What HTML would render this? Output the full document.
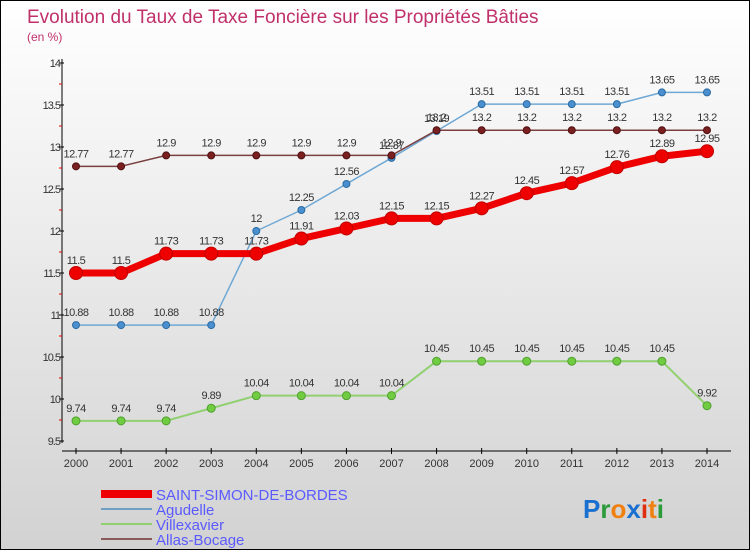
<!DOCTYPE html>
<html><head><meta charset="utf-8"><style>
body{margin:0}
#c{position:relative;width:748px;height:548px;border:1px solid #000;background:linear-gradient(#fff,#d2d2d2);font-family:"Liberation Sans",sans-serif;overflow:hidden}
</style></head><body>
<div id="c">
<svg id="s" width="748" height="548" style="position:absolute;left:0;top:0" font-family="Liberation Sans, sans-serif">
<text x="26" y="22" font-size="19" fill="#c0306a">Evolution du Taux de Taxe Foncière sur les Propriétés Bâties</text>
<text x="26" y="40" font-size="12" fill="#c0306a">(en %)</text>
<g id="axes"></g><g id="series"></g>
<g>
<rect x="100" y="489" width="51" height="8" fill="#e00"/>
<text x="155" y="499" font-size="15" fill="#5a5aff">SAINT-SIMON-DE-BORDES</text>
<rect x="100" y="507" width="51" height="2" fill="#6fa0c4"/>
<text x="155" y="514" font-size="15" fill="#5a5aff">Agudelle</text>
<rect x="100" y="522" width="51" height="2" fill="#90d070"/>
<text x="155" y="529" font-size="15" fill="#5a5aff">Villexavier</text>
<rect x="100" y="537" width="51" height="2" fill="#8a5a5a"/>
<text x="155" y="544" font-size="15" fill="#5a5aff">Allas-Bocage</text>
</g>
<text x="582" y="517" font-size="26" font-weight="bold"><tspan fill="#1a70d0">P</tspan><tspan fill="#2a9a3a">r</tspan><tspan fill="#f08010">o</tspan><tspan fill="#1a70d0">x</tspan><tspan fill="#e03010">i</tspan><tspan fill="#f08010">t</tspan><tspan fill="#2a9a3a">i</tspan></text>
</svg>
</div>
<script>
const years=[2000,2001,2002,2003,2004,2005,2006,2007,2008,2009,2010,2011,2012,2013,2014];
const yTicks=[9.5,10,10.5,11,11.5,12,12.5,13,13.5,14];
const saintSimon=[11.5,11.5,11.73,11.73,11.73,11.91,12.03,12.15,12.15,12.27,12.45,12.57,12.76,12.89,12.95];
const agudelle=[10.88,10.88,10.88,10.88,12,12.25,12.56,12.87,13.19,13.51,13.51,13.51,13.51,13.65,13.65];
const villexavier=[9.74,9.74,9.74,9.89,10.04,10.04,10.04,10.04,10.45,10.45,10.45,10.45,10.45,10.45,9.92];
const allas=[12.77,12.77,12.9,12.9,12.9,12.9,12.9,12.9,13.2,13.2,13.2,13.2,13.2,13.2,13.2];
const NS="http://www.w3.org/2000/svg";
const X=i=>75+i*(706-75)/(years.length-1);
const Y=v=>440-(v-9.5)*84;
function mk(t,a,p){const e=document.createElementNS(NS,t);for(const k in a)e.setAttribute(k,a[k]);p.appendChild(e);return e;}
const ax=document.getElementById('axes');
let e=mk('line',{x1:61,y1:58,x2:61,y2:442,stroke:'#000'},ax);


e=mk('line',{x1:61,y1:450,x2:730,y2:450,stroke:'#000'},ax);


yTicks.forEach(v=>{
 mk('line',{x1:58,x2:63,y1:Y(v),y2:Y(v),stroke:'#000'},ax);
 if(v<14)mk('line',{x1:58,x2:61,y1:Y(v+0.25),y2:Y(v+0.25),stroke:'#e00'},ax);
 const t=mk('text',{x:59,y:Y(v)+4,'font-size':11,fill:'#333','text-anchor':'end','letter-spacing':'-1'},ax);
 t.textContent=String(v);
 
 
});
years.forEach((y,i)=>{
 mk('line',{x1:X(i),x2:X(i),y1:447,y2:453,stroke:'#000'},ax);
 const t=mk('text',{x:X(i),y:466,'font-size':11,fill:'#333','text-anchor':'middle'},ax);
 t.textContent=y;
 
 
});
const sg=document.getElementById('series');
function series(vals,name,color,w,r,dot,dstroke){
 const g=mk('g',{},sg);
 
 
 const pl=mk('polyline',{points:vals.map((v,i)=>X(i)+','+Y(v)).join(' '),fill:'none',stroke:color,'stroke-width':w,'stroke-linejoin':'round'},g);
 
 
 vals.forEach((v,i)=>{
  const c=mk('circle',{cx:X(i),cy:Y(v),r:r,fill:dot,stroke:dstroke,'stroke-width':1},g);
  
  
  const t=mk('text',{x:X(i),y:Y(v)-9,'font-size':11,fill:'#333','text-anchor':'middle','letter-spacing':'-0.5'},g);
  t.textContent=String(v);
  
  
 });
}
series(villexavier,'villexavier','#90d070',2,4,'#70cc40','#50a030');
series(agudelle,'agudelle','#6fa8d4',1.5,3.5,'#4a90d0','#2a6aa0');
series(allas,'allas-bocage','#7a4040',1.5,3.5,'#7a2020','#501010');
series(saintSimon,'saint-simon-de-bordes','#ee0000',7,6.5,'#ee0000','#c00000');
</script>
</body></html>
